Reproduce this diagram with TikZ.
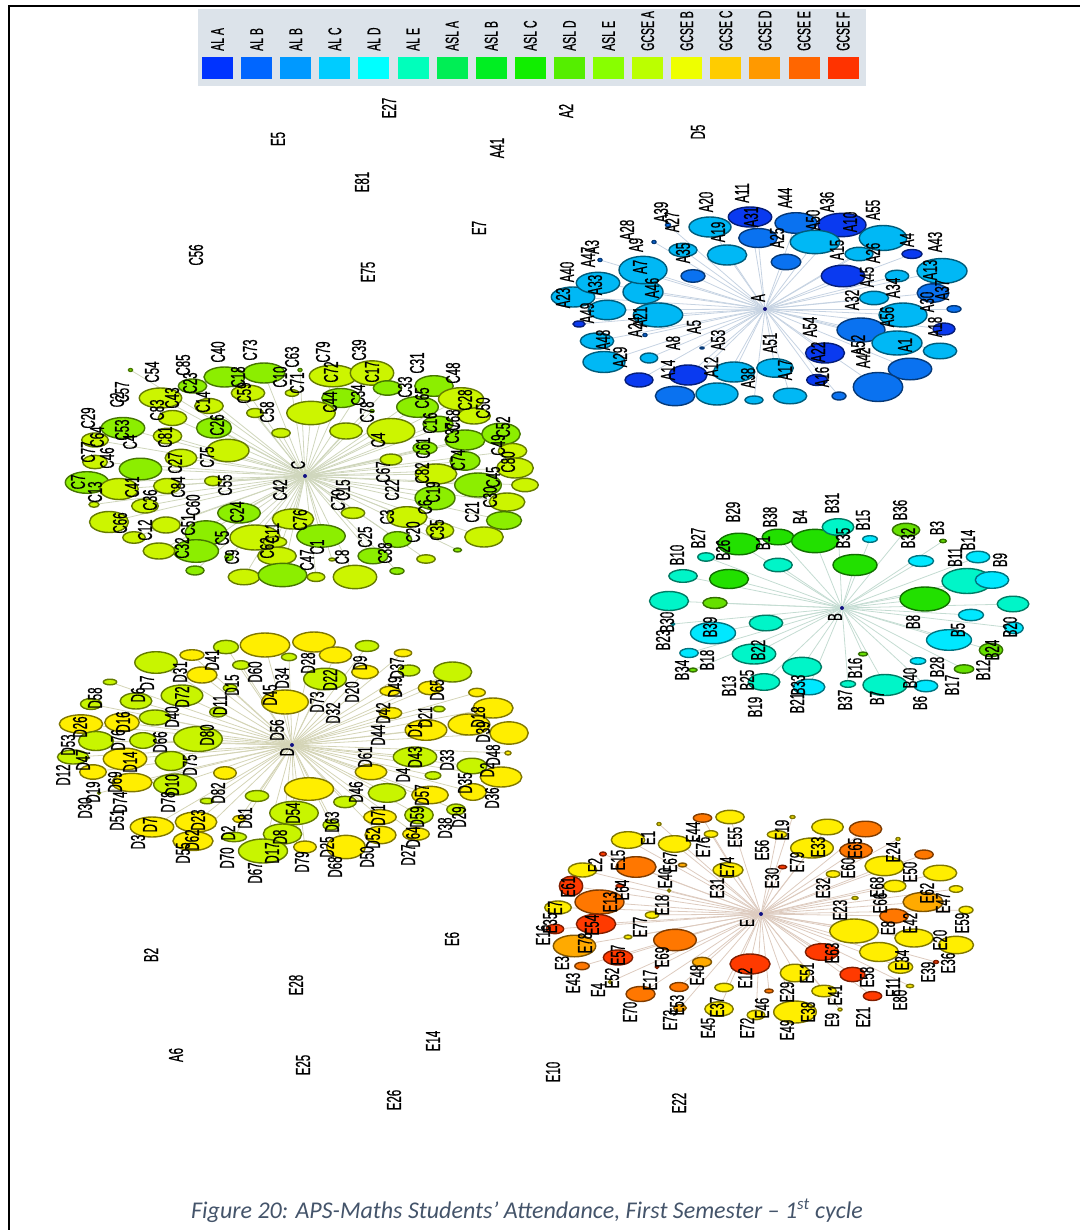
\documentclass[tikz,border=0pt]{standalone}
\usepackage{fontspec}
\usepackage{graphicx}
\setmainfont{Liberation Sans}
\newfontfamily\lblfont[BoldFont={Liberation Sans}, BoldFeatures={FakeBold=0.9}]{Liberation Sans}
\newfontfamily\capfont{Carlito}
\usetikzlibrary{shapes.geometric,backgrounds}
\definecolor{ala}{HTML}{0033FF}\definecolor{alb}{HTML}{0066FF}\definecolor{albb}{HTML}{0099FF}
\definecolor{alc}{HTML}{00CCFF}\definecolor{ald}{HTML}{00FFFF}\definecolor{ale}{HTML}{00FFBB}
\definecolor{asla}{HTML}{00EE55}\definecolor{aslb}{HTML}{00EE22}\definecolor{aslc}{HTML}{11EE00}
\definecolor{asld}{HTML}{55EE00}\definecolor{asle}{HTML}{88FF00}\definecolor{gcsea}{HTML}{BBFF00}
\definecolor{gcseb}{HTML}{EEFF00}\definecolor{gcsec}{HTML}{FFCC00}\definecolor{gcsed}{HTML}{FF9900}
\definecolor{gcsee}{HTML}{FF6600}\definecolor{gcsef}{HTML}{FF3300}
\definecolor{legbg}{HTML}{DCE3EA}\definecolor{capc}{HTML}{44546A}
\definecolor{ad}{HTML}{0A3AF0}\definecolor{am}{HTML}{0A72F0}\definecolor{al}{HTML}{00B8F5}
\definecolor{bg}{HTML}{22E000}\definecolor{ba}{HTML}{00F5C8}\definecolor{bc}{HTML}{00E8FF}\definecolor{bl}{HTML}{66E000}
\definecolor{cg}{HTML}{8CEE00}\definecolor{cy}{HTML}{CCF500}
\definecolor{dy}{HTML}{FFEE00}\definecolor{dg}{HTML}{C8F500}
\definecolor{ey}{HTML}{FFEE00}\definecolor{eg}{HTML}{FFAA00}\definecolor{eo}{HTML}{FF7700}\definecolor{er}{HTML}{FF3A00}
\definecolor{navy}{HTML}{101080}
\definecolor{edA}{HTML}{C6D3E2}\definecolor{edB}{HTML}{C4DCD2}\definecolor{edC}{HTML}{CFD6BC}
\definecolor{edD}{HTML}{D4D4B6}\definecolor{edE}{HTML}{DDCBBF}
\newcommand{\rl}[1]{\scalebox{1.75}[1]{\rotatebox{90}{#1}}}
\tikzset{
  bub/.style={ellipse, inner sep=0pt, line width=1.4pt},
  lbl/.style={font=\lblfont\bfseries\fontsize{11.5}{11.5}\selectfont, inner sep=0pt},
  leglbl/.style={font=\lblfont\bfseries\fontsize{10.5}{10.5}\selectfont, inner sep=0pt},
  ctr/.style={circle, fill=navy, inner sep=0pt, minimum size=4pt},
  edgeA/.style={draw=edA, line width=0.8pt},
  edgeB/.style={draw=edB, line width=0.8pt},
  edgeC/.style={draw=edC, line width=0.8pt},
  edgeD/.style={draw=edD, line width=0.8pt},
  edgeE/.style={draw=edE, line width=0.8pt},
  legsq/.style={rectangle, inner sep=0pt, minimum width=31pt, minimum height=22pt}
}
\begin{document}
\begin{tikzpicture}[x=1pt,y=-1pt]
\useasboundingbox (0,0) rectangle (1080,1230);
% frame
\draw[line width=2pt] (9,1230) -- (9,6) -- (1080,6);
% legend
\fill[legbg] (198,9) rectangle (866,86);
\foreach \tx/\cc [count=\i from 0] in {AL A/ala,AL B/alb,AL B/albb,AL C/alc,AL D/ald,AL E/ale,ASL A/asla,ASL B/aslb,ASL C/aslc,ASL D/asld,ASL E/asle,GCSE A/gcsea,GCSE B/gcseb,GCSE C/gcsec,GCSE D/gcsed,GCSE E/gcsee,GCSE F/gcsef}{
  \node[legsq, fill=\cc] (sq\i) at ({217.5+39.1*\i},68) {};
  \node[leglbl, anchor=south] (lt\i) at ({217.5+39.1*\i},51) {\rl{\tx}};
}
% ---------------- cluster A
\node[ctr] (A) at (765,309) {};
\foreach \x/\y/\rx/\ry/\cc [count=\i] in {750/217/21.7/10/ad,710/227/21/10/al,758/238/19.3/9.5/am,796/223/21/10.3/am,842/225/24/11.7/ad,815/242/24.7/11.7/al,883/238/23.7/12.5/al,859/254/14/6.7/al,912/254/10/4.5/ad,942/271/25/12.5/al,843/276/21.7/10.8/ad,897/276/11.7/5.8/al,933/293/15.8/9.2/am,874/298/14.5/6.7/al,954/309/7/3.3/am,903/315/24/12/al,861/330/24/12/am,944/329/11/6/ad,897/343/25/12/al,940/351/16.7/7.8/al,825/353/19.5/10/ad,910/369/21.7/10.8/am,878/387/24.7/14.5/am,817/380/10.3/5.5/ad,839/396/7/4/am,775/368/18.3/9.2/al,790/396/16.7/7.8/al,754/400/9/4/al,734/372/20.8/10/al,717/394/21/11/al,675/396/19.7/9.7/am,688/375/19/10/ad,639/380/14/7/ad,604/362/21/10.5/al,649/358/8.7/5/al,597/341/16.7/8/al,702/348/2/1/am,579/324/6/3/ad,658/315/24.7/12/al,607/310/18.8/9.7/al,573/297/21.7/10/al,598/283/21.7/10.7/al,643/292/20/11.7/al,643/270/24/13.7/al,693/276/12/6.3/am,683/250/14/6.7/al,727/255/19.7/10/al,786/262/14.8/7.7/am,668/225/2.5/2/am,654/242/2/1.5/am,600/260/2/1.5/am,645/335/2/1.5/am}{
  \node[bub, fill=\cc, draw=\cc!50!black, minimum width={2*\rx*1pt}, minimum height={2*\ry*1pt}] (a\i) at (\x,\y) {};
  \xdef\nA{\i}
}
\begin{pgfonlayer}{background}\foreach \i in {1,...,\nA}{\draw[edgeA] (A) -- (a\i);}\end{pgfonlayer}
\node[lbl] (Al) at (758,298) {\rl{A}};
\foreach \x/\y/\tx [count=\i] in {742/193/A11,706/202/A20,661/212/A39,627/230/A28,636/245/A9,672/222/A27,785/198/A44,827/202/A36,873/210/A55,751/217/A31,718/232/A19,777/238/A25,813/220/A50,850/222/A10,907/240/A4,837/250/A15,873/253/A26,935/242/A43,930/270/A13,867/277/A45,893/288/A34,942/290/A37,927/302/A30,852/300/A32,887/317/A56,935/327/A18,905/345/A1,858/345/A52,863/358/A42,810/327/A54,818/352/A22,822/377/A16,770/343/A51,785/370/A17,718/340/A53,748/378/A38,711/367/A12,668/370/A14,673/343/A8,694/327/A5,620/357/A29,635/327/A24,640/317/A21,603/340/A48,587/313/A49,563/298/A23,567/272/A40,595/285/A33,588/257/A47,592/247/A3,640/267/A7,652/288/A46,683/253/A35}{
  \node[lbl] (la\i) at (\x,\y) {\rl{\tx}};
}
% ---------------- cluster B
\node[ctr] (B) at (842,608) {};
\foreach \x/\y/\rx/\ry/\cc [count=\i] in {739/544/20.8/10.8/bg,778/537/15.8/7.8/bg,815/541/23.3/11.7/bg,838/527/15.8/8.3/ba,870/539/7.3/3.3/bc,906/530/13.7/6.7/bl,943/541/3.3/1.7/bl,978/557/11.7/5.8/bc,921/561/12.5/5.5/bc,706/557/8.3/4.2/ba,778/565/14.2/6.7/ba,855/565/22/10.5/bg,683/576/14.2/6.3/ba,729/579/19.5/9.5/bg,967/581/25/12.5/ba,992/580/16.7/8.3/bc,925/599/25/12/bg,1013/604/15.8/7.8/ba,669/601/19.5/9.5/ba,715/603/12/5.5/bl,971/615/12.5/5.7/bc,1014/628/9.2/5.7/bc,766/623/16.7/7.8/ba,713/633/22.5/10.7/bc,673/624/1.7/1.7/bc,949/640/22.5/10.3/bc,991/650/11.7/6.7/bl,754/654/21.7/10/ba,689/653/9.2/4.5/bc,863/654/4.5/2/bl,918/661/7.7/3.3/bc,964/669/9.7/4.2/bl,693/670/4/2/bl,802/667/19.5/9.7/ba,764/682/15.8/8.3/ba,809/687/15.8/7.8/bc,848/684/7.5/3.3/ba,885/685/22/10.5/ba,926/686/11.7/5.8/bc}{
  \node[bub, fill=\cc, draw=\cc!50!black, minimum width={2*\rx*1pt}, minimum height={2*\ry*1pt}] (b\i) at (\x,\y) {};
  \xdef\nB{\i}
}
\begin{pgfonlayer}{background}\foreach \i in {1,...,\nB}{\draw[edgeB] (B) -- (b\i);}\end{pgfonlayer}
\node[lbl] (Bl) at (835,617) {\rl{B}};
\foreach \x/\y/\tx [count=\i] in {733/512/B29,698/538/B27,677/555/B10,723/550/B26,770/517/B38,763/543/B1,800/517/B4,832/503/B31,843/538/B35,863/520/B15,900/510/B36,908/538/B32,937/528/B3,968/540/B14,955/557/B11,1000/560/B9,913/622/B8,958/630/B5,1010/627/B20,992/650/B24,937/667/B28,983/670/B12,952/685/B17,910/678/B40,920/703/B6,855/668/B16,877/698/B7,845/700/B37,797/703/B21,798/685/B33,755/707/B19,747/680/B25,729/686/B13,758/650/B22,707/660/B18,682/670/B34,710/627/B39,663/640/B23,667/622/B30}{
  \node[lbl] (lb\i) at (\x,\y) {\rl{\tx}};
}
% ---------------- cluster C
\node[ctr] (C) at (305,476) {};
\foreach \x/\y/\rx/\ry/\cc [count=\i] in {224.5/377/20.5/10/cg,264/373/20.8/10/cg,333/376/23.7/10.8/cy,372/373/21.7/12.2/cy,192.5/386/14.2/7/cg,160.5/398/21.2/10/cy,248/393/16.7/7.8/cy,292/393/6.7/3.3/cy,341/398/19.2/9.5/cg,387.5/388/14.2/7.2/cg,434/386/19.2/10.3/cg,461/399/22.5/11.3/cy,209/406/14.2/7.5/cy,130.5/370/2/1.5/cg,255/413/8.3/4.5/cy,311/413/24.2/11.7/cy,417.5/407/20.8/10.3/cg,438/424/15/7.8/cg,474/416/16.3/8/cy,123/428/21.7/10.5/cg,172.5/418/14.2/7.5/cy,167.5/436/14.2/7.8/cy,214/428/17.5/10/cg,281/433/9.2/4.5/cy,228/450.5/21/11.2/cy,346/431/16.3/8/cy,391/431/23.8/12.5/cy,465/440/20/10/cg,501/434/19.2/10.8/cg,95/440/13.3/7/cy,425/448/12/6.2/cg,95/462/12.3/6.7/cy,140.5/469/21.2/10.8/cg,181/458/15.8/8.7/cy,391/459.5/10.8/5.5/cy,465/461/15/9.2/cg,512.5/451/14.2/7.5/cy,515/468/18.3/10/cy,436/474/20.8/10/cy,478/485/23.3/12/cg,525/485/13.3/6.7/cy,87/482.5/21.7/10.8/cg,119/489/19.2/10.5/cy,167/486/13.3/7.5/cy,213/481/8.3/4.7/cy,435/498/20/11.7/cg,507/502/17.8/9/cy,94/504.5/5/2.8/cy,145/506/13.3/7/cy,239/513/21.2/10/cg,293/519/20.7/10/cy,407/517/20/10.3/cy,109/522/19.5/10.5/cy,166/525/14.2/8/cy,206/533/20.8/12.2/cg,255/537.5/25/12.5/cy,353/513/11.7/5.5/cy,504/520.5/17.5/8.8/cg,440/530.5/13.7/7.8/cy,484/537/19.2/10/cy,134/537.5/11.2/5.8/cy,321/536/24.2/11.2/cg,397.5/539.5/14.2/7.8/cg,275/542/11.7/5.3/cy,196/551/22.5/11.3/cg,159/551/15.8/8/cy,229/557/4.2/3.7/cg,277/556/19.3/8.8/cy,373/556/15/7.8/cg,426/559/9.2/4.2/cy,457.5/550/4/2/cg,332/559.5/3/1.5/cy,195/570.5/9/4.5/cg,244/577/15.8/7.8/cy,282.5/575/24.2/11.7/cg,316/577/8.8/4.5/cy,355/577/21.7/11.7/cy,397/571/7/3.3/cg,300/370/2/1.5/cg,372/411/2/1.5/cg}{
  \node[bub, fill=\cc, draw=\cc!50!black, minimum width={2*\rx*1pt}, minimum height={2*\ry*1pt}] (c\i) at (\x,\y) {};
  \xdef\nC{\i}
}
\begin{pgfonlayer}{background}\foreach \i in {1,...,\nC}{\draw[edgeC] (C) -- (c\i);}\end{pgfonlayer}
\node[lbl] (Cl) at (298,465) {\rl{C}};
\foreach \x/\y/\tx [count=\i] in {88/418/C29,97/437/C64,88/452/C77,107/458/C46,122/392/C57,117/400/C2,152/372/C54,183/365/C85,218/352/C40,250/350/C73,292/357/C63,323/352/C79,359/350/C39,417/363/C31,453/373/C48,190/383/C23,172/398/C43,157/410/C83,122/430/C53,130/442/C4,165/437/C81,203/402/C14,217/425/C26,238/377/C18,280/377/C10,244/393/C59,267/412/C58,297/383/C71,331/372/C72,372/372/C17,330/402/C44,358/395/C34,367/412/C78,405/387/C33,422/398/C65,465/400/C28,483/408/C50,430/423/C16,453/420/C68,452/433/C37,503/427/C52,378/440/C4,423/448/C61,458/460/C74,498/445/C49,508/462/C80,422/473/C82,383/472/C67,392/490/C22,493/477/C45,490/497/C30,433/492/C19,425/507/C6,472/512/C21,387/517/C3,437/530/C35,413/532/C20,385/553/C38,365/537/C25,338/500/C70,343/490/C15,342/557/C8,317/547/C1,307/560/C47,300/520/C76,280/490/C42,272/533/C11,267/548/C62,232/557/C9,222/538/C5,182/548/C32,188/525/C51,193/505/C60,237/512/C24,225/485/C55,207/457/C75,175/463/C27,178/487/C84,132/487/C41,150/500/C36,120/523/C66,145/530/C12,95/492/C13,78/482/C7}{
  \node[lbl] (lc\i) at (\x,\y) {\rl{\tx}};
}
% ---------------- cluster D
\node[ctr] (D) at (292,745) {};
\foreach \x/\y/\rx/\ry/\cc [count=\i] in {226/647/12.5/6.7/dg,265/645/24.7/12/dy,314/642/21.2/10/dy,335.5/655/16.2/8/dy,367/646/11.7/5.5/dg,403/653/8.7/3.7/dy,156/662.5/21.2/10.8/dg,192/655/12/5.3/dy,241/665/8.3/4.3/dg,289/657/7.5/3.7/dg,325/679/21.3/10.8/dg,202/675/15/8/dy,365/672/13.3/6.7/dy,409/670.5/10.8/5.5/dg,452.5/672/19.2/10/dg,110/682/6.7/2.8/dg,182/695.5/20.8/10.5/dg,285/702/23.3/12/dy,136/701/15.8/8/dg,230/688/6.7/3.8/dg,390/691/10/4.7/dy,430/688/11.7/6.7/dy,477/692.5/8.3/4.2/dy,91/704/10.5/5.5/dg,218/712/8.3/5/dg,493/708/20/10/dy,390.5/713/11.2/5.5/dy,439/709/6/2.8/dg,81/724/21.7/9.2/dy,122/722.5/17.2/9.2/dy,155/717.5/15.7/7.5/dg,198/739/24.3/12.5/dg,469/724.5/20.8/10.5/dy,426/730/20.8/10.3/dy,509/733/19.2/11.2/dy,96/741/17.5/9.5/dg,143/740.5/13.3/7.8/dg,73/757/15.5/7/dg,125/759/21.7/10.8/dy,171/761/15.8/9.5/dg,415/757/21.7/10/dg,508/753/3/2/dy,93/772/13.3/7.2/dy,132/782.5/20/9.2/dy,175/784.5/21.3/10.5/dg,225/773/11.3/6.3/dy,371/772/15.8/7.7/dy,472/766/15/7.8/dg,501/777/20.8/10/dy,433/775.5/7.8/3.8/dg,309/789/24.5/11.3/dy,387/793/18.8/9.3/dg,430/795/18.3/8.7/dy,473/792/13.3/8.3/dy,257/796/11.7/5.5/dg,207/801/6.7/2.8/dg,345/802/11.3/5.7/dg,152/827/21.7/10/dy,196/822/20.8/10/dy,294/813/24.2/11.7/dg,380/817/16.3/7.3/dy,419/815/14.2/8.7/dg,456/809.5/9.2/5.5/dg,239/819/6.2/3.3/dy,331/825/8/5/dg,282.5/834/19.2/10/dg,380.5/835/15.5/8.7/dy,416/834/13.3/6.3/dy,193/841/20/9.5/dy,234/837/12.5/4.7/dg,263/851/24.5/12/dg,305/847/11.3/6/dy,346/847/19.2/11.7/dy,99/793/1.5/1.5/dg}{
  \node[bub, fill=\cc, draw=\cc!50!black, minimum width={2*\rx*1pt}, minimum height={2*\ry*1pt}] (d\i) at (\x,\y) {};
  \xdef\nD{\i}
}
\begin{pgfonlayer}{background}\foreach \i in {1,...,\nD}{\draw[edgeD] (D) -- (d\i);}\end{pgfonlayer}
\node[lbl] (Dl) at (287,752) {\rl{D}};
\foreach \x/\y/\tx [count=\i] in {95/698/D58,138/695/D6,147/683/D7,180/672/D31,212/660/D41,232/685/D15,255/672/D60,282/678/D34,308/663/D28,330/680/D22,360/663/D9,397/668/D37,352/692/D20,395/687/D49,437/690/D65,317/702/D73,333/713/D32,270/695/D45,182/697/D72,220/705/D11,383/713/D42,425/717/D21,478/717/D18,378/735/D44,415/730/D1,483/732/D39,415/757/D43,447/760/D33,493/755/D48,487/770/D2,403/775/D4,365/757/D61,465/783/D35,492/798/D36,422/795/D57,356/792/D46,417/817/D59,459/817/D29,445/828/D38,378/815/D71,332/822/D63,293/813/D54,280/837/D8,373/838/D52,413/837/D64,408/855/D27,367/857/D50,327/847/D25,335/867/D68,302/862/D79,272/853/D17,255/873/D67,227/858/D70,228/833/D2,245/818/D81,218/793/D82,183/853/D55,192/840/D62,198/820/D23,168/802/D78,150/825/D7,138/842/D3,117/820/D51,120/802/D74,85/808/D30,93/792/D19,63/775/D12,83/760/D47,68/745/D53,80/727/D26,123/722/D16,118/740/D76,160/742/D66,172/717/D40,207/735/D80,190/765/D75,130/762/D14,115/782/D69,172/785/D10,277/730/D56}{
  \node[lbl] (ld\i) at (\x,\y) {\rl{\tx}};
}
% ---------------- cluster E
\node[ctr] (E) at (761,914) {};
\foreach \x/\y/\rx/\ry/\cc [count=\i] in {702.5/818/9.2/4.2/eo,730/817/14.2/6.7/ey,792.5/817/2.5/1.5/ey,827.5/827/15.8/7.8/ey,865.5/829/16.2/7.8/eo,628/840/16.7/8.3/ey,674.5/844/16.2/8.3/ey,711/834/6.7/3.3/ey,777/834.5/9.7/3.8/ey,812/848/21.3/10/ey,856/850.5/16.3/7.8/eo,898/839/2/1.5/ey,924/854.5/9.2/4.5/eo,603/854/3.3/2/er,582.5/870/14.2/7/ey,636/867/20/10.3/eo,682.5/865/4.2/2/eg,728/870/15/7.3/ey,782.5/867/4.2/1.8/er,833/874/6.7/3.3/ey,884.5/866/19.5/9.7/ey,940/873/16.7/7.8/ey,571/886/11.7/9.7/er,620/886/4/1.7/er,894.7/886/11.2/5.8/ey,956/889/6.7/3.3/ey,599.5/902/24.5/12/eo,923/902/20/9.5/eg,558/907.5/13.3/6.5/ey,652/915/6.7/3.3/ey,855/898/3/1.5/ey,894/916/14.2/7/eo,966/910/7/3.7/ey,596/924/19.7/9.7/er,555/929/8.7/4.7/er,854/931/24.2/12/ey,914/938/19.2/9/ey,574.5/946/21.2/10.8/eg,628/937/3.8/2/ey,675/940/21.3/10.7/eo,956/945/17.5/8.7/ey,879/952/19.5/9.5/ey,618/957.5/14.7/7.5/er,822/952/16.7/8.3/er,750/964/20/10/er,795/973/14.7/8.8/ey,900.5/967/12.2/6.3/ey,582/966/7.2/3.7/eo,702/962/9.5/4.7/eg,936/962/2.5/1.5/er,852.5/974.5/12.5/7.2/er,610/982/1.7/1.5/ey,657/967/1.7/1.5/er,640.5/994/14.5/7.5/eo,679/987/9.2/4.5/eo,724/987.5/9.2/4.2/ey,769/991/4.2/2/eo,824/991/12.2/5.8/ey,872.5/996/9.2/4.5/er,910/986/3.7/1.7/ey,680/1008/6.3/3.3/eg,719/1009/14.2/7.2/ey,756/1015/8.8/4.7/ey,795/1012/21.3/11/ey,840/1009.5/2/1.5/ey,659/824/2/1.5/ey,669/890.5/1.5/1.5/ey}{
  \node[bub, fill=\cc, draw=\cc!50!black, minimum width={2*\rx*1pt}, minimum height={2*\ry*1pt}] (e\i) at (\x,\y) {};
  \xdef\nE{\i}
}
\begin{pgfonlayer}{background}\foreach \i in {1,...,\nE}{\draw[edgeE] (E) -- (e\i);}\end{pgfonlayer}
\node[lbl] (El) at (747,923) {\rl{E}};
\foreach \x/\y/\tx [count=\i] in {648/838/E1,693/832/E44,703/847/E76,735/837/E55,762/850/E56,782/830/E19,818/847/E33,855/848/E65,893/852/E24,595/865/E2,618/860/E15,670/862/E67,665/878/E40,727/867/E74,797/862/E79,772/878/E30,717/888/E31,848/868/E60,910/872/E50,823/888/E32,877/887/E68,568/887/E61,622/890/E64,610/902/E13,662/905/E18,840/910/E23,880/903/E66,927/893/E62,943/903/E47,555/908/E7,640/927/E77,592/925/E54,550/923/E35,543/935/E16,585/943/E78,888/928/E8,910/923/E42,962/923/E59,940/940/E20,662/957/E69,618/955/E57,562/963/E3,573/983/E43,612/978/E52,598/990/E4,650/980/E17,697/975/E48,745/978/E12,807/973/E51,832/953/E63,902/960/E34,948/963/E36,928/972/E39,867/977/E58,893/987/E11,900/1000/E80,787/992/E29,762/1008/E46,835/995/E41,863/1017/E21,832/1020/E9,808/1012/E38,717/1007/E37,630/1012/E70,670/1020/E73,677/1005/E53,708/1028/E45,747/1028/E72,787/1030/E49}{
  \node[lbl] (le\i) at (\x,\y) {\rl{\tx}};
}
% ---------------- isolated nodes
\foreach \x/\y/\tx [count=\i] in {389/108/E27,566/111/A2,698/132/D5,278/139/E5,497/148/A41,362/182/E81,479/228/E7,196/255/C56,368/272/E75,151/955/B2,296/985/E28,452/939/E6,176/1055/A6,303/1065/E25,433/1041/E14,553/1072/E10,394/1100/E26,679/1103/E22}{
  \node[lbl] (iso\i) at (\x,\y) {\rl{\tx}};
}
% caption
\node[font=\capfont\itshape\fontsize{24}{26}\selectfont, text=capc, inner sep=0pt] (cap) at (527,1211) {Figure 20: APS-Maths Students’ Attendance, First Semester – 1\textsuperscript{st} cycle};
\end{tikzpicture}
\end{document}
